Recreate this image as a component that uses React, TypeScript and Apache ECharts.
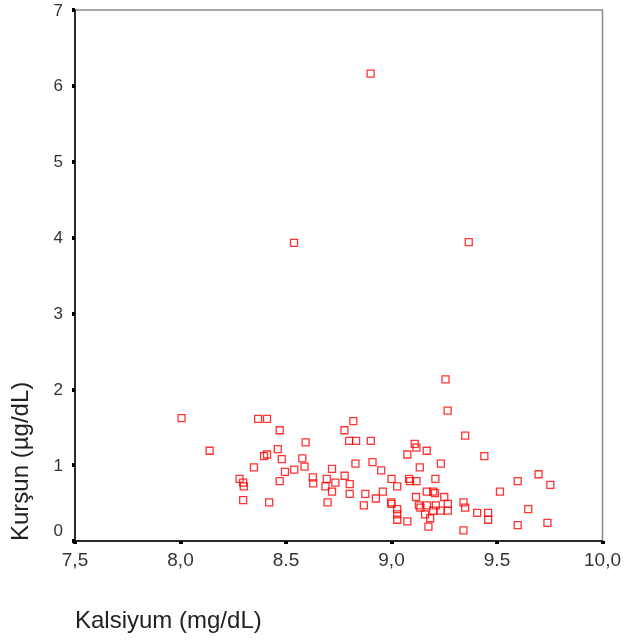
import React, { useEffect, useRef } from "react";
import * as echarts from "echarts";

const xValues = [
  8.005, 8.138, 8.28, 8.297, 8.3, 8.297,
  8.368, 8.41, 8.348, 8.396, 8.41, 8.42, 8.47, 8.461, 8.48, 8.47, 8.495, 8.538, 8.539,
  8.593, 8.577, 8.588, 8.627, 8.629, 8.718, 8.693, 8.687, 8.734, 8.718, 8.697,
  8.777, 8.819, 8.799, 8.832, 8.829, 8.778, 8.802, 8.802, 8.876, 8.869, 8.901,
  8.902, 8.91, 8.951, 8.926, 8.959, 8.998, 9.0, 9.0, 9.027, 9.027, 9.027, 9.027, 9.075,
  9.075, 9.083, 9.088, 9.11, 9.118, 9.118, 9.116, 9.13, 9.134, 9.137,
  9.159, 9.167, 9.167, 9.168, 9.175, 9.183, 9.198, 9.198, 9.206, 9.208, 9.21,
  9.233, 9.234, 9.25, 9.256, 9.266, 9.267, 9.267, 9.341, 9.341, 9.349, 9.349, 9.366,
  9.406, 9.44, 9.458, 9.458, 9.514, 9.598, 9.598, 9.648, 9.697, 9.739, 9.753,
];
const yValues = [
  1.62, 1.19, 0.82, 0.77, 0.72, 0.54,
  1.61, 1.61, 0.97, 1.12, 1.14, 0.51, 1.46, 1.21, 1.08, 0.79, 0.91, 3.93, 0.94,
  1.3, 1.09, 0.98, 0.84, 0.76, 0.95, 0.82, 0.72, 0.77, 0.65, 0.51,
  1.46, 1.58, 1.32, 1.32, 1.02, 0.86, 0.75, 0.62, 0.62, 0.47, 6.16,
  1.32, 1.04, 0.93, 0.56, 0.65, 0.51, 0.49, 0.82, 0.72, 0.42, 0.35, 0.28, 1.14,
  0.26, 0.82, 0.79, 1.28, 1.23, 0.79, 0.58, 0.47, 0.97, 0.44,
  0.35, 1.19, 0.65, 0.47, 0.19, 0.3, 0.65, 0.4, 0.63, 0.82, 0.47,
  0.4, 1.02, 0.58, 2.13, 1.72, 0.49, 0.4, 0.51, 0.14, 1.39, 0.44, 3.94,
  0.37, 1.12, 0.37, 0.28, 0.65, 0.79, 0.21, 0.42, 0.88, 0.24, 0.74,
];
const xTickLabels: Record<string, string> = {
  "7.5": "7,5",
  "8": "8,0",
  "8.5": "8.5",
  "9": "9,0",
  "9.5": "9.5",
  "10": "10,0",
};
const xTitle = "Kalsiyum (mg/dL)";
const yTitle = "Kurşun (µg/dL)";

export default function App() {
  const ref = useRef<HTMLDivElement>(null);
  useEffect(() => {
    if (!ref.current) return;
    const chart = echarts.init(ref.current, undefined, { renderer: "svg" });
    const font = "Liberation Sans, Arial, sans-serif";
    chart.setOption({
      animation: false,
      grid: {
        left: 75,
        right: 20,
        top: 10,
        bottom: 102,
        show: true,
        borderColor: "#8a8a8a",
        borderWidth: 1.5,
      },
      xAxis: {
        type: "value",
        min: 7.5,
        max: 10,
        interval: 0.5,
        splitLine: { show: false },
        axisLine: { show: true, lineStyle: { color: "#000", width: 1.5 } },
        axisTick: { show: true, length: 3, lineStyle: { color: "#000", width: 4 } },
        axisLabel: {
          color: "#333",
          fontSize: 19,
          fontFamily: font,
          margin: 9,
          formatter: (v: number) => xTickLabels[String(v)] ?? String(v),
        },
      },
      yAxis: {
        type: "value",
        min: 0,
        max: 7,
        interval: 1,
        splitLine: { show: false },
        axisLine: { show: true, lineStyle: { color: "#000", width: 1.5 } },
        axisTick: { show: true, length: 3, lineStyle: { color: "#000", width: 4 } },
        axisLabel: {
          color: "#333",
          fontSize: 17,
          fontFamily: font,
          margin: 12,
          formatter: (v: number) => (v === 0 ? "{zero|0}" : String(v)),
          rich: {
            zero: {
              color: "#333",
              fontSize: 17,
              fontFamily: font,
              padding: [0, 0, 22, 0],
            },
          },
        },
      },
      graphic: [
        {
          type: "text",
          left: 75,
          top: 607,
          style: { text: xTitle, fill: "#222", fontSize: 24, fontFamily: font },
        },
        {
          type: "text",
          x: 7,
          y: 541,
          rotation: Math.PI / 2,
          style: {
            text: yTitle,
            fill: "#222",
            fontSize: 24,
            fontFamily: font,
            textAlign: "left",
            textVerticalAlign: "top",
          },
        },
      ],
      series: [
        {
          type: "scatter",
          symbol: "rect",
          symbolSize: 7,
          itemStyle: { color: "rgba(255,255,255,0)", borderColor: "#ff0000", borderWidth: 1.3 },
          data: xValues.map((x, i) => [x, yValues[i]]),
        },
      ],
    });
    return () => chart.dispose();
  }, []);
  return (
    <div
      ref={ref}
      style={{ position: "fixed", left: 0, top: 0, width: 624, height: 643 }}
    />
  );
}
